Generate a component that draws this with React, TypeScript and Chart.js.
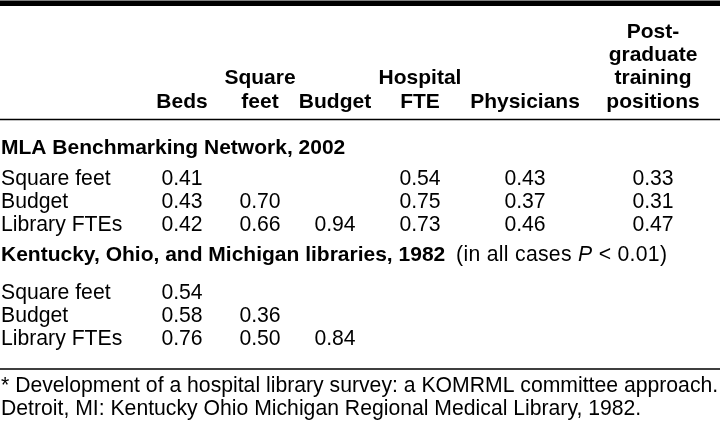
import React, { useEffect, useRef } from "react";
import { Chart, registerables } from "chart.js";

Chart.register(...registerables);

// ---- data ----
const columnHeaders: string[][] = [
  ["Beds"],
  ["Square", "feet"],
  ["Budget"],
  ["Hospital", "FTE"],
  ["Physicians"],
  ["Post-", "graduate", "training", "positions"],
];
const rowLabels = ["Square feet", "Budget", "Library FTEs"];
const mlaTitle = "MLA Benchmarking Network, 2002";
const mla2002: (number | null)[][] = [
  [0.41, null, null, 0.54, 0.43, 0.33],
  [0.43, 0.7, null, 0.75, 0.37, 0.31],
  [0.42, 0.66, 0.94, 0.73, 0.46, 0.47],
];
const komTitleBold = "Kentucky, Ohio, and Michigan libraries, 1982";
const komTitleNote = ["(in all cases ", "P", " < 0.01)"];
const kom1982: (number | null)[][] = [
  [0.54, null, null],
  [0.58, 0.36, null],
  [0.76, 0.5, 0.84],
];
const footnote = [
  "* Development of a hospital library survey: a KOMRML committee approach.",
  "Detroit, MI: Kentucky Ohio Michigan Regional Medical Library, 1982.",
];

// ---- layout (table geometry, in canvas units) ----
const W = 720;
const H = 423;
const COL_X = [182, 260, 335, 420, 525, 653];
const HEADER_BASE = 107.5;
const HEADER_LH = 23.3;
const MLA_TITLE_Y = 154;
const MLA_ROW_Y = [185, 208, 231];
const KOM_TITLE_Y = 261;
const KOM_ROW_Y = [299, 322, 345];
const FOOT_Y = [392, 415];
const TOP_RULE = [0.5, 6];
const MID_RULE = 119.5;
const BOT_RULE = 369;
const FONT = "'Liberation Sans', Arial, Helvetica, sans-serif";
const REG = `21.2px ${FONT}`;
const BOLD = `bold 21px ${FONT}`;
const ITAL = `italic 21.2px ${FONT}`;

function rowDatasets(values: (number | null)[][], ys: number[], key: string) {
  return values.map((row, i) => ({
    label: `${key}-${rowLabels[i]}`,
    data: row
      .map((v, j) => (v == null ? null : { x: COL_X[j], y: ys[i], v }))
      .filter((p) => p !== null) as any[],
    pointRadius: 0,
    showLine: false,
    rowLabel: rowLabels[i],
    rowY: ys[i],
  }));
}

const tablePlugin = {
  id: "tableText",
  afterDatasetsDraw(chart: any) {
    const ctx: any = chart.ctx;
    const xs = chart.scales.x;
    const ys = chart.scales.y;
    const px = (v: number) => xs.getPixelForValue(v);
    const py = (v: number) => ys.getPixelForValue(v);
    ctx.save();
    ctx.fillStyle = "#000";
    ctx.textBaseline = "alphabetic";

    // rules
    ctx.fillRect(px(0), py(TOP_RULE[0]), px(W) - px(0), py(TOP_RULE[1]) - py(TOP_RULE[0]));
    ctx.fillRect(px(0), py(MID_RULE) - 0.75, px(W) - px(0), 1.5);
    ctx.fillRect(px(0), py(BOT_RULE) - 0.75, px(W) - px(0), 1.5);

    // column headers (bottom aligned)
    ctx.font = BOLD;
    ctx.textAlign = "center";
    columnHeaders.forEach((lines, j) => {
      const n = lines.length;
      lines.forEach((t, k) => {
        ctx.fillText(t, px(COL_X[j]), py(HEADER_BASE - (n - 1 - k) * HEADER_LH));
      });
    });

    // section titles
    ctx.textAlign = "left";
    ctx.font = BOLD;
    ctx.fillText(mlaTitle, px(1), py(MLA_TITLE_Y));
    let x = px(1);
    ctx.fillText(komTitleBold, x, py(KOM_TITLE_Y));
    x += ctx.measureText(komTitleBold + " ").width + 5;
    ctx.letterSpacing = "0.3px";
    komTitleNote.forEach((t, k) => {
      ctx.font = k === 1 ? ITAL : REG;
      ctx.fillText(t, x, py(KOM_TITLE_Y));
      x += ctx.measureText(t).width;
    });
    ctx.letterSpacing = "0px";

    // row labels + values from dataset elements
    chart.data.datasets.forEach((ds: any, di: number) => {
      ctx.font = REG;
      ctx.textAlign = "left";
      ctx.fillText(ds.rowLabel, px(1), py(ds.rowY));
      const meta = chart.getDatasetMeta(di);
      ctx.textAlign = "center";
      meta.data.forEach((el: any, k: number) => {
        const v = ds.data[k].v as number;
        ctx.fillText(v.toFixed(2), el.x, el.y);
      });
    });

    // footnote
    ctx.font = REG;
    ctx.textAlign = "left";
    footnote.forEach((t, k) => ctx.fillText(t, px(1), py(FOOT_Y[k])));
    ctx.restore();
  },
};

export default function App() {
  const ref = useRef<HTMLCanvasElement | null>(null);
  useEffect(() => {
    document.body.style.margin = "0";
    const canvas = ref.current!;
    const chart = new Chart(canvas, {
      type: "scatter",
      data: {
        datasets: [
          ...rowDatasets(mla2002, MLA_ROW_Y, "mla"),
          ...rowDatasets(kom1982, KOM_ROW_Y, "kom"),
        ] as any,
      },
      options: {
        animation: false,
        responsive: false,
        events: [],
        layout: { padding: 0 },
        plugins: { legend: { display: false }, tooltip: { enabled: false } },
        scales: {
          x: { type: "linear", min: 0, max: W, display: false },
          y: { type: "linear", min: 0, max: H, reverse: true, display: false },
        },
      },
      plugins: [tablePlugin],
    });
    return () => chart.destroy();
  }, []);
  return (
    <div style={{ width: W, height: H, background: "#fff" }}>
      <canvas ref={ref} width={W} height={H} style={{ display: "block" }} />
    </div>
  );
}
